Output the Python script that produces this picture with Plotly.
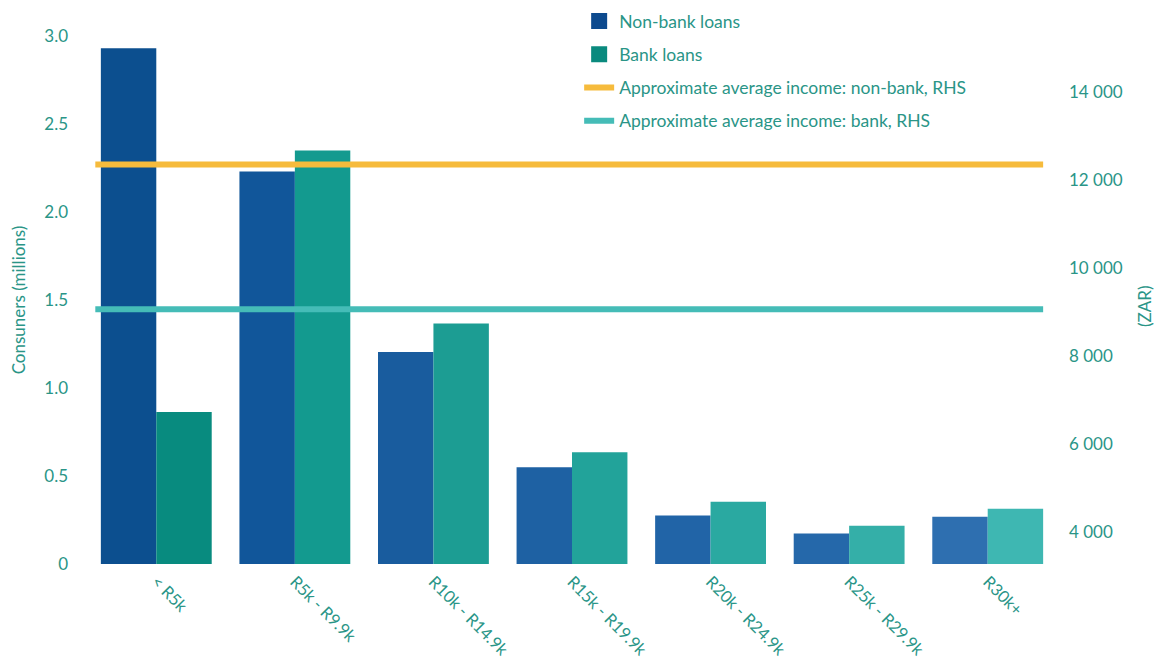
import plotly.graph_objects as go

categories = ["< R5k", "R5k - R9.9k", "R10k - R14.9k", "R15k - R19.9k",
              "R20k - R24.9k", "R25k - R29.9k", "R30k+"]
non_bank = [2.93, 2.23, 1.205, 0.55, 0.275, 0.173, 0.269]
bank = [0.864, 2.35, 1.366, 0.635, 0.354, 0.218, 0.314]
income_non_bank = 12350
income_bank = 9060

left_tickvals = [0, 0.5, 1.0, 1.5, 2.0, 2.5, 3.0]
left_ticktext = ["0", "0.5", "1.0", "1.5", "2.0", "2.5", "3.0"]
right_tickvals = [4000, 6000, 8000, 10000, 12000, 14000]
right_ticktext = ["4 000", "6 000", "8 000", "10 000", "12 000", "14 000"]

non_bank_colors = ["#0c4f8f", "#11569a", "#195c9e", "#1e61a3", "#2164a7", "#2568aa", "#2e6fb0"]
bank_colors = ["#088b7f", "#139a8f", "#1c9d93", "#22a39a", "#2aa9a1", "#34afa8", "#3eb7b2"]
TXT = "#2a9587"
FONT = "Lato"

x_idx = list(range(len(categories)))
line_x = [-0.44, 6.4]

fig = go.Figure()
fig.add_trace(go.Bar(x=x_idx, y=non_bank, name="Non-bank loans",
                     marker=dict(color=non_bank_colors, line=dict(width=0)),
                     showlegend=False))
fig.add_trace(go.Bar(x=x_idx, y=bank, name="Bank loans",
                     marker=dict(color=bank_colors, line=dict(width=0)),
                     showlegend=False))
# legend entries with larger square swatches
fig.add_trace(go.Scatter(x=[None], y=[None], mode="markers", name="Non-bank loans",
                         marker=dict(symbol="square", size=18, color="#0d4a8e"),
                         legendgroup="a"))
fig.add_trace(go.Scatter(x=[None], y=[None], mode="markers", name="Bank loans",
                         marker=dict(symbol="square", size=18, color="#0a8a7e"),
                         legendgroup="b"))
fig.add_trace(go.Scatter(x=line_x, y=[income_non_bank] * 2, yaxis="y2", mode="lines",
                         name="Approximate average income: non-bank, RHS",
                         line=dict(color="#f6bb3c", width=6), legendgroup="c"))
fig.add_trace(go.Scatter(x=line_x, y=[income_bank] * 2, yaxis="y2", mode="lines",
                         name="Approximate average income: bank, RHS",
                         line=dict(color="#45bcb7", width=6), legendgroup="d"))

fig.update_layout(
    width=1156, height=668,
    margin=dict(l=87, r=99, t=36, b=104, autoexpand=False),
    paper_bgcolor="white", plot_bgcolor="white",
    font=dict(family=FONT, size=17, color=TXT),
    barmode="group", bargap=0.2, bargroupgap=0,
    xaxis=dict(range=[-0.5, 6.5], tickvals=x_idx, ticktext=categories,
               tickangle=45, showgrid=False, zeroline=False, showline=False,
               automargin=False, ticklabelstandoff=4,
               tickfont=dict(family=FONT, size=16.5, color=TXT)),
    yaxis=dict(range=[0, 3.0], tickvals=left_tickvals, ticktext=left_ticktext,
               showgrid=False, zeroline=False, showline=False, ticks="",
               automargin=False, ticklabelstandoff=18,
               tickfont=dict(family=FONT, size=17, color=TXT)),
    yaxis2=dict(range=[3280, 15265], overlaying="y", side="right",
                tickvals=right_tickvals, ticktext=right_ticktext,
                showgrid=False, zeroline=False, showline=False, ticks="",
                automargin=False, ticklabelstandoff=11,
                tickfont=dict(family=FONT, size=17, color=TXT)),
    legend=dict(x=0.501, y=0.9955, xref="container", yref="container",
                xanchor="left", yanchor="top", itemsizing="trace",
                bgcolor="rgba(0,0,0,0)", tracegroupgap=7.5,
                font=dict(family=FONT, size=17.5, color=TXT)),
    annotations=[
        dict(text="Consuners (millions)", textangle=-90, xref="paper", yref="paper",
             x=-0.0708, y=0.5, xanchor="center", yanchor="middle", showarrow=False,
             font=dict(family=FONT, size=17, color=TXT)),
        dict(text="(ZAR)", textangle=-90, xref="paper", yref="paper",
             x=1.0908, y=0.487, xanchor="center", yanchor="middle", showarrow=False,
             font=dict(family=FONT, size=17, color=TXT)),
    ],
    showlegend=True,
)

fig.write_html("out.html", config={"displayModeBar": False},
               post_script="document.body.style.margin='0';")
